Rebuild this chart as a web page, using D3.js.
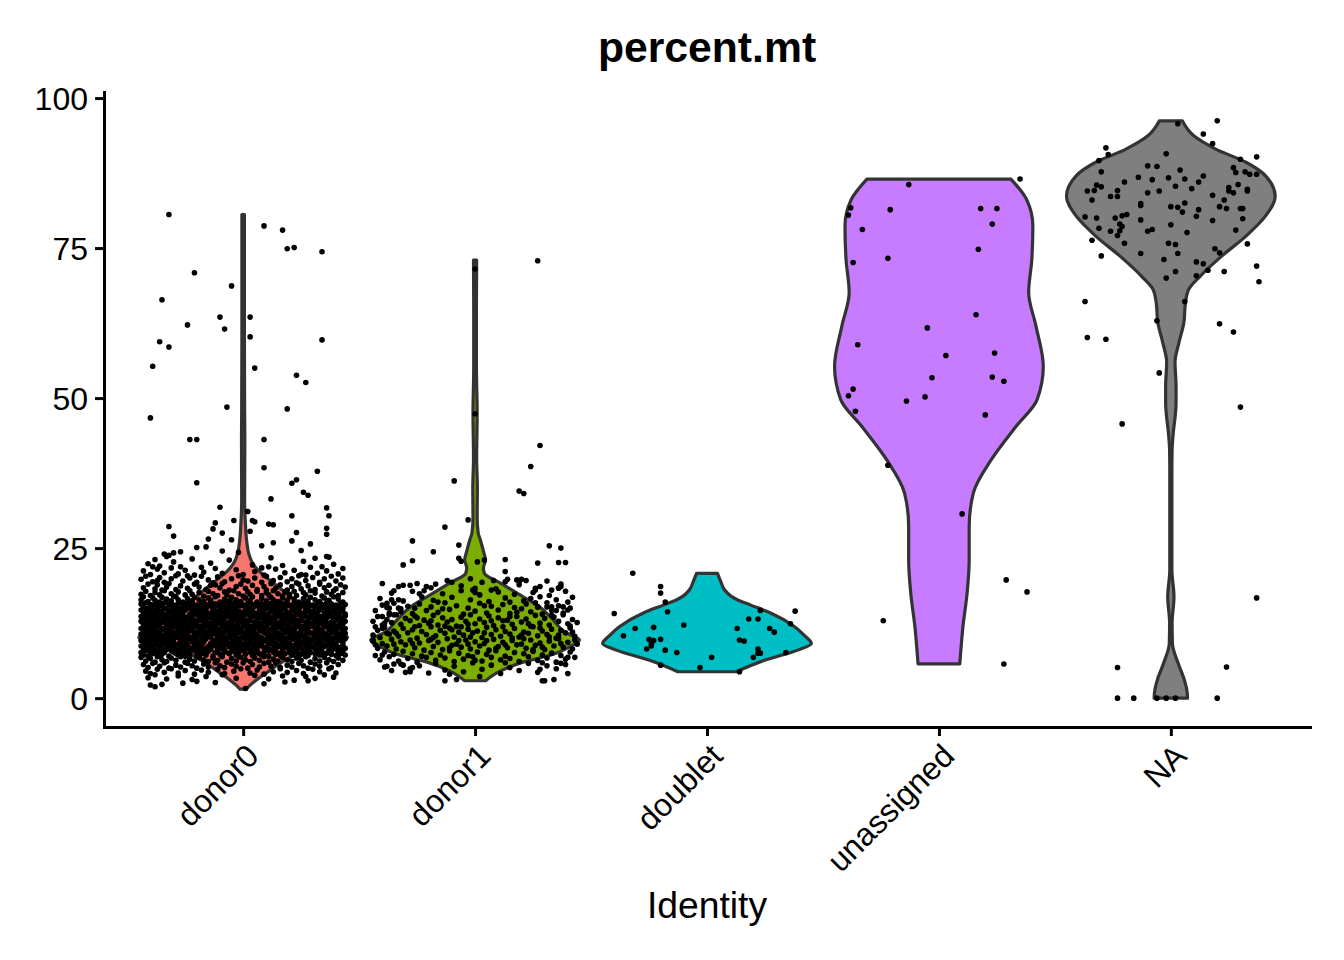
<!doctype html>
<html>
<head>
<meta charset="utf-8">
<script src="https://d3js.org/d3.v7.min.js"></script>
<style>
  body { margin: 0; background: #fff; }
  svg text { font-family: "Liberation Sans", Arial, Helvetica, sans-serif; }
</style>
</head>
<body>
<script>
var categories = ["donor0", "donor1", "doublet", "unassigned", "NA"];
var fillColors = ["#F8766D", "#7CAE00", "#00BFC4", "#C77CFF", "#7F7F7F"];
var yTicks = [0, 25, 50, 75, 100];

// violin outlines: [value, half width relative to the widest violin]
var donor0Shape = [[1.5,0.03],[2.2,0.07],[3.2,0.14],[4.3,0.23],[5.4,0.32],[6.5,0.42],[7.6,0.55],[8.6,0.72],[9.4,0.9],[10.1,1.0],
  [11.0,0.93],[12.0,0.85],[13.2,0.75],[14.5,0.64],[16.0,0.52],[17.5,0.41],[18.8,0.32],[20.0,0.23],[21.2,0.15],[22.5,0.09],
  [24,0.055],[26,0.035],[29,0.022],[33,0.014],[43,0.016],[48,0.014],[60,0.012],[80.6,0.012]];
var donor1Shape = [[2.9,0.1],[4.5,0.24],[6.0,0.46],[7.3,0.75],[8.5,0.9],[9.7,1.0],[11,0.86],[13,0.75],[15.2,0.62],[17,0.45],
  [19.2,0.24],[20.8,0.09],[21.7,0.08],[23,0.1],[24.5,0.08],[26.4,0.05],[27.5,0.03],[30,0.02],[35,0.022],[40,0.015],
  [47.5,0.02],[55,0.013],[65,0.013],[73,0.015]];
var doubletShape = [[4.4,0.28],[6.3,0.55],[8.0,0.87],[9.1,1.0],[10.5,0.93],[11.9,0.84],[14.2,0.61],[15.5,0.42],[16.4,0.29],
  [17.0,0.23],[18.0,0.17],[19.5,0.13],[20.8,0.1]];
var unassignedShape = [[5.7,0.2],[11.9,0.23],[17.5,0.27],[23,0.29],[28.6,0.29],[34.2,0.33],[39.7,0.5],[45.3,0.74],[49.7,0.94],
  [55.3,1.0],[62,0.93],[67.6,0.86],[73.1,0.89],[78.7,0.9],[83.1,0.84],[86.5,0.69]];
var naShape = [[0,0.16],[1.05,0.156],[3.0,0.13],[5.8,0.07],[9.1,0.015],[12.5,0.012],[16.9,0.03],[21.4,0.01],[30,0.01],[38,0.01],
  [41.4,0.012],[43.6,0.02],[49.2,0.05],[52,0.05],[56,0.04],[59.2,0.077],[62.6,0.125],[65.9,0.14],[68.1,0.17],[70.3,0.28],
  [73.7,0.49],[77.0,0.72],[80.4,0.91],[83.6,1.0],[87.0,0.91],[89.3,0.72],[91.5,0.43],[93.7,0.22],[96.2,0.11]];

// jittered cells: [horizontal offset in percent of the category slot, percent.mt]
var donor0Pts = [
[-32,80.6],[9,78.7],[17,78.0],[19,74.9],[22,75.1],[34,74.4],[-21,70.9],[-5,68.7],[-35,66.4],[-10,63.5],[3,63.5],[-24,62.2],[-8,61.5],[3,60.2],[-36,59.4],[-32,58.5],[34,59.7],[-39,55.3],[5,55.0],[23,53.8],[27,52.6],[-7,48.5],[19,48.2],[-40,46.7],[-23,43.1],[-20,43.1],[9,43.1],[9,38.4],[32,37.8],[-20,35.9],[21,35.8],[23,36.4],[26,34.3],[28,33.8],[12,33.2],[-10,31.8],[36,31.7],[37,30.4],[2,31.1],[-32,28.6],[-30,27.0],[21,30.4],[36,28.3],[36,27.3],[-4,29.6],[4,29.6],[5,29.4],[-12,29.2],[-13,28.2],[11,29.0],[13,28.9],[-9,27.5],[3,27.8],[23,27.6],[-15,26.5],[-5,26.4],[8,25.4],[13,25.9],[21,26.2],[25,24.6],[29,25.7],[-20,25.1],[-16,25.2],[-34,24.0],[-32,23.8],[-30,24.2],[-27,24.4],[36,23.6],[37,23.5],[-9,24.5],[-2,24.3],
[-41,22.4],[-38,23.1],[-36,22.0],[-33,23.6],[-30,22.7],[-27,21.9],[-22,23.2],[-14,22.5],[-6,23.0],[4,22.2],[12,23.4],[17,22.1],[26,22.8],[31,23.3],[39,22.3],[-18,21.8],[8,21.7],[34,21.9],
[-43,21.2],[-40,20.6],[-37,21.5],[-34,20.9],[-31,21.7],[-28,20.7],[-25,21.3],[-21,20.5],[-17,21.0],[-12,21.6],[-9,20.8],[-3,21.4],[0,20.6],[5,21.1],[9,20.5],[14,21.5],[18,20.9],[22,21.3],[25,20.6],[29,21.8],[32,20.8],[36,21.2],[41,20.7],[43,21.6],[-24,20.4],[11,21.9],[-39,21.9],[27,20.5],
[-44,19.8],[-42,20.3],[-39,19.4],[-36,20.1],[-34,19.3],[-31,19.9],[-29,20.4],[-26,19.5],[-23,20.0],[-20,19.3],[-18,20.3],[-15,19.7],[-11,20.2],[-8,19.4],[-5,19.9],[-2,20.4],[2,19.5],[5,20.0],[8,19.3],[10,20.3],[13,19.6],[16,20.1],[19,19.4],[21,19.9],[24,20.4],[27,19.6],[30,20.1],[33,19.3],[35,19.9],[38,20.3],[40,19.5],[43,20.0],[-13,19.2],[0,19.7],[23,19.2],[-37,19.6],
[-43,18.4],[-41,19.0],[-38,18.2],[-37,18.9],[-33,18.5],[-32,19.1],[-29,18.1],[-27,18.7],[-24,18.3],[-21,19.0],[-19,18.5],[-16,18.1],[-14,18.8],[-10,18.4],[-9,19.1],[-6,18.0],[-3,18.6],[-1,19.0],[1,18.3],[4,18.8],[6,18.1],[9,18.6],[12,19.1],[14,18.3],[16,18.9],[19,18.0],[21,18.6],[24,19.0],[25,18.2],[28,18.7],[31,18.1],[33,19.0],[35,18.4],[37,18.8],[40,18.2],[42,18.9],[44,18.5],[-35,18.0],[-12,18.9],[10,18.0],
[-44,17.3],[-42,17.8],[-40,17.1],[-38,17.6],[-36,17.2],[-34,17.9],[-31,17.4],[-30,17.0],[-28,17.7],[-25,17.2],[-23,17.9],[-22,17.3],[-19,17.6],[-17,17.0],[-15,17.8],[-13,17.4],[-11,17.1],[-8,17.7],[-7,17.2],[-4,17.9],[-2,17.4],[0,17.0],[2,17.7],[3,17.3],[6,17.8],[8,17.1],[10,17.6],[11,17.2],[13,17.9],[15,17.4],[17,17.0],[18,17.7],[20,17.3],[22,17.8],[23,17.1],[26,17.6],[27,17.2],[29,17.9],[31,17.5],[34,17.0],[36,17.7],[38,17.3],[39,17.9],[41,17.1],[43,17.6],
[-44,16.4],[-43,16.9],[-41,16.1],[-39,16.7],[-38,16.3],[-36,16.0],[-35,16.8],[-33,16.5],[-31,16.2],[-29,16.9],[-28,16.4],[-26,16.0],[-24,16.6],[-22,16.2],[-21,16.8],[-19,16.4],[-17,16.1],[-15,16.7],[-14,16.3],[-12,16.9],[-10,16.0],[-8,16.5],[-6,16.2],[-5,16.8],[-3,16.4],[-1,16.1],[1,16.7],[3,16.3],[4,16.9],[6,16.0],[8,16.6],[10,16.2],[12,16.8],[13,16.4],[15,16.1],[17,16.7],[19,16.3],[20,16.9],[22,16.5],[24,16.0],[26,16.6],[28,16.2],[29,16.8],[31,16.4],[33,16.1],[35,16.7],[37,16.3],[39,16.9],[41,16.5],[43,16.0],
[-44,15.7],[-42,15.9],[-40,15.6],[-38,15.8],[-36,15.5],[-34,15.9],[-32,15.7],[-30,15.5],[-28,15.8],[-26,15.6],[-24,15.9],[-22,15.7],[-20,15.5],[-18,15.8],[-16,15.6],[-14,15.9],[-12,15.7],[-10,15.5],[-8,15.8],[-6,15.6],[-4,15.9],[-2,15.7],[0,15.5],[2,15.8],[4,15.6],[6,15.9],[8,15.7],[10,15.5],[12,15.8],[14,15.6],[16,15.9],[18,15.7],[20,15.5],[22,15.8],[24,15.6],[26,15.9],[28,15.7],[30,15.5],[32,15.8],[34,15.6],[36,15.9],[38,15.7],[40,15.5],[42,15.8],[44,15.6],
[-43,15.2],[-41,15.0],[-39,15.4],[-37,15.1],[-35,15.3],[-33,15.0],[-31,15.4],[-29,15.2],[-27,15.0],[-25,15.3],[-23,15.1],[-21,15.4],[-19,15.2],[-17,15.0],[-15,15.3],[-13,15.1],[-11,15.4],[-9,15.2],[-7,15.0],[-5,15.3],[-3,15.1],[-1,15.4],[1,15.2],[3,15.0],[5,15.3],[7,15.1],[9,15.4],[11,15.2],[13,15.0],[15,15.3],[17,15.1],[19,15.4],[21,15.2],[23,15.0],[25,15.3],[27,15.1],[29,15.4],[31,15.2],[33,15.0],[35,15.3],[37,15.1],[39,15.4],[41,15.2],[43,15.0],
[-44,14.7],[-42,14.5],[-41,14.9],[-39,14.6],[-37,14.8],[-35,14.5],[-34,14.9],[-31,14.6],[-30,14.8],[-28,14.5],[-25,14.7],[-24,15.0],[-22,14.6],[-20,14.8],[-18,14.5],[-16,14.9],[-13,14.7],[-12,14.5],[-10,14.8],[-7,14.6],[-6,15.0],[-4,14.7],[-2,14.5],[1,14.8],[2,14.6],[4,14.9],[7,14.5],[9,14.7],[10,15.0],[12,14.6],[15,14.8],[16,14.5],[18,14.9],[21,14.7],[22,14.5],[24,14.8],[27,14.6],[28,14.9],[30,14.5],[33,14.7],[34,15.0],[36,14.6],[39,14.8],[40,14.5],[42,14.9],
[-43,14.2],[-41,14.0],[-40,14.4],[-38,14.1],[-36,14.3],[-33,14.0],[-32,14.4],[-30,14.2],[-27,14.1],[-26,14.4],[-23,14.0],[-21,14.3],[-19,14.1],[-17,14.4],[-15,14.2],[-14,14.0],[-11,14.3],[-9,14.1],[-8,14.4],[-5,14.2],[-3,14.0],[-1,14.3],[0,14.1],[3,14.4],[5,14.2],[6,14.0],[8,14.3],[11,14.1],[13,14.4],[14,14.2],[17,14.0],[19,14.3],[20,14.1],[23,14.4],[25,14.2],[26,14.0],[29,14.3],[31,14.1],[32,14.4],[35,14.2],[37,14.0],[38,14.3],[41,14.1],[43,14.4],[44,14.0],
[-44,13.6],[-42,13.9],[-40,13.5],[-39,13.8],[-37,13.6],[-35,13.9],[-33,13.7],[-31,13.5],[-29,13.8],[-28,13.6],[-26,13.9],[-24,13.5],[-22,13.7],[-20,14.0],[-19,13.6],[-17,13.8],[-15,13.5],[-13,13.9],[-11,13.7],[-9,13.5],[-7,13.8],[-6,13.6],[-4,13.9],[-2,13.5],[0,13.7],[2,14.0],[4,13.6],[5,13.8],[7,13.5],[9,13.9],[11,13.7],[13,13.5],[15,13.8],[16,13.6],[18,13.9],[20,13.5],[22,13.7],[24,14.0],[26,13.6],[27,13.8],[29,13.5],[31,13.9],[33,13.7],[35,13.5],[37,13.8],[38,13.6],[40,13.9],[42,13.5],[44,13.7],
[-43,13.1],[-41,13.4],[-39,13.0],[-38,13.3],[-36,13.1],[-34,13.4],[-32,13.2],[-30,13.0],[-29,13.3],[-27,13.1],[-25,13.4],[-23,13.2],[-21,13.0],[-18,13.3],[-16,13.1],[-14,13.4],[-12,13.2],[-10,13.0],[-8,13.3],[-5,13.1],[-3,13.4],[-1,13.2],[1,13.0],[3,13.3],[6,13.1],[8,13.4],[10,13.2],[12,13.0],[14,13.3],[17,13.1],[19,13.4],[21,13.2],[23,13.0],[25,13.3],[28,13.1],[30,13.4],[32,13.2],[34,13.0],[36,13.3],[39,13.1],[41,13.4],[43,13.2],
[-44,12.8],[-42,12.6],[-41,12.9],[-39,12.5],[-37,12.7],[-35,12.9],[-34,12.6],[-32,12.8],[-30,12.5],[-28,12.7],[-26,13.0],[-25,12.6],[-23,12.8],[-21,12.5],[-19,12.9],[-17,12.7],[-15,12.5],[-13,12.8],[-12,12.6],[-10,12.9],[-8,12.5],[-6,12.7],[-4,13.0],[-2,12.6],[-1,12.8],[1,12.5],[3,12.9],[5,12.7],[7,12.5],[9,12.8],[10,12.6],[12,12.9],[14,12.5],[16,12.7],[18,13.0],[20,12.6],[21,12.8],[23,12.5],[25,12.9],[27,12.7],[29,12.5],[31,12.8],[32,12.6],[34,12.9],[36,12.5],[38,12.7],[40,13.0],[42,12.6],[44,12.8],
[-43,12.3],[-41,12.0],[-40,12.4],[-38,12.1],[-36,12.3],[-33,12.0],[-31,12.2],[-29,12.4],[-27,12.1],[-26,12.3],[-24,12.0],[-22,12.4],[-20,12.2],[-18,12.0],[-16,12.3],[-14,12.1],[-11,12.4],[-9,12.2],[-7,12.0],[-5,12.3],[-3,12.1],[0,12.4],[2,12.2],[4,12.0],[6,12.3],[8,12.1],[11,12.4],[13,12.2],[15,12.0],[17,12.3],[19,12.1],[22,12.4],[24,12.2],[26,12.0],[28,12.3],[30,12.1],[33,12.4],[35,12.2],[37,12.0],[39,12.3],[41,12.1],[43,12.4],
[-44,11.6],[-42,11.9],[-40,11.5],[-39,11.7],[-37,12.0],[-35,11.6],[-33,11.8],[-32,11.5],[-30,11.9],[-28,11.7],[-26,11.5],[-24,11.8],[-23,11.6],[-21,11.9],[-19,11.5],[-17,11.7],[-15,12.0],[-13,11.6],[-12,11.8],[-10,11.5],[-8,11.9],[-6,11.7],[-4,11.5],[-2,11.8],[-1,11.6],[1,11.9],[3,11.5],[5,11.7],[7,12.0],[9,11.6],[10,11.8],[12,11.5],[14,11.9],[16,11.7],[18,11.5],[20,11.8],[21,11.6],[23,11.9],[25,11.5],[27,11.7],[29,12.0],[31,11.6],[32,11.8],[34,11.5],[36,11.9],[38,11.7],[40,11.5],[42,11.8],[44,11.6],
[-43,11.2],[-41,11.4],[-39,11.0],[-38,11.3],[-36,11.1],[-34,11.4],[-31,11.2],[-29,11.0],[-28,11.3],[-25,11.1],[-23,11.4],[-22,11.2],[-20,11.0],[-17,11.3],[-15,11.1],[-14,11.4],[-11,11.2],[-9,11.0],[-7,11.3],[-6,11.1],[-3,11.4],[-1,11.2],[0,11.0],[2,11.3],[4,11.1],[7,11.4],[8,11.2],[11,11.0],[13,11.3],[14,11.1],[17,11.4],[19,11.2],[20,11.0],[22,11.3],[25,11.1],[26,11.4],[28,11.2],[31,11.0],[33,11.3],[34,11.1],[37,11.4],[39,11.2],[40,11.0],[43,11.3],
[-44,10.7],[-42,10.5],[-40,10.9],[-39,10.6],[-37,10.8],[-35,10.5],[-33,10.9],[-32,10.7],[-30,10.5],[-27,10.8],[-26,10.6],[-24,10.9],[-21,10.7],[-19,10.5],[-18,10.8],[-16,10.6],[-13,10.9],[-12,10.7],[-10,10.5],[-8,11.0],[-5,10.8],[-4,10.6],[-2,10.9],[1,10.7],[3,10.5],[5,10.8],[6,10.6],[9,10.9],[10,10.7],[12,10.5],[15,10.8],[16,10.6],[18,10.9],[21,10.7],[23,10.5],[24,10.8],[27,10.6],[29,10.9],[30,10.7],[32,10.5],[35,10.8],[36,10.6],[38,10.9],[41,10.7],[42,10.5],[44,10.8],
[-43,10.1],[-41,10.4],[-40,10.0],[-38,10.3],[-36,10.1],[-34,10.4],[-33,10.2],[-31,10.0],[-29,10.3],[-28,10.1],[-25,10.4],[-23,10.2],[-22,10.0],[-20,10.3],[-17,10.1],[-15,10.4],[-14,10.2],[-11,10.0],[-9,10.3],[-7,10.1],[-6,10.4],[-3,10.2],[-1,10.0],[0,10.3],[2,10.1],[4,10.4],[7,10.2],[8,10.0],[11,10.3],[13,10.1],[14,10.4],[17,10.2],[19,10.0],[20,10.3],[22,10.1],[25,10.4],[26,10.2],[28,10.0],[31,10.3],[33,10.1],[34,10.4],[37,10.2],[39,10.0],[40,10.3],[43,10.1],
[-44,9.6],[-42,9.9],[-41,9.5],[-39,9.8],[-37,9.6],[-35,9.9],[-34,9.7],[-32,9.5],[-30,9.8],[-27,9.6],[-26,9.9],[-24,9.7],[-21,9.5],[-20,9.8],[-18,9.6],[-16,9.9],[-13,9.7],[-12,9.5],[-10,9.8],[-8,9.6],[-5,9.9],[-4,9.7],[-2,9.5],[1,9.8],[3,9.6],[5,9.9],[6,9.7],[9,9.5],[10,9.8],[12,9.6],[15,9.9],[16,9.7],[18,9.5],[21,9.8],[23,9.6],[24,9.9],[27,9.7],[29,9.5],[30,9.8],[32,9.6],[35,9.9],[36,9.7],[38,9.5],[41,9.8],[42,9.6],[44,9.9],
[-43,9.2],[-41,9.0],[-40,9.4],[-38,9.1],[-35,9.3],[-34,9.0],[-32,9.4],[-30,9.2],[-28,9.0],[-26,9.3],[-25,9.1],[-22,9.4],[-20,9.2],[-19,9.0],[-17,9.3],[-14,9.1],[-13,9.4],[-11,9.2],[-9,9.0],[-7,9.3],[-5,9.1],[-3,9.4],[-1,9.2],[1,9.0],[3,9.3],[4,9.1],[6,9.4],[8,9.2],[11,9.0],[13,9.3],[14,9.1],[17,9.4],[19,9.2],[20,9.0],[23,9.3],[25,9.1],[26,9.4],[28,9.2],[31,9.0],[33,9.3],[34,9.1],[37,9.4],[39,9.2],[40,9.0],[43,9.3],
[-44,8.7],[-42,8.5],[-40,8.9],[-39,8.6],[-37,8.8],[-36,8.5],[-33,8.9],[-31,8.7],[-30,8.5],[-27,8.8],[-25,8.6],[-24,8.9],[-21,8.7],[-19,8.5],[-18,8.8],[-15,8.6],[-13,8.9],[-12,8.7],[-10,8.5],[-8,8.8],[-6,8.6],[-4,8.9],[-2,8.7],[0,8.5],[2,8.8],[5,8.6],[7,8.9],[8,8.7],[10,8.5],[13,8.8],[15,8.6],[16,8.9],[18,8.7],[21,8.5],[22,8.8],[24,8.6],[27,8.9],[29,8.7],[30,8.5],[33,8.8],[35,8.6],[36,8.9],[38,8.7],[41,8.5],[43,8.8],
[-43,8.1],[-41,8.4],[-39,8.2],[-38,8.0],[-35,8.3],[-33,8.1],[-32,8.4],[-29,8.2],[-28,8.0],[-26,8.3],[-23,8.1],[-22,8.4],[-20,8.2],[-17,8.0],[-16,8.3],[-14,8.1],[-11,8.4],[-9,8.2],[-8,8.0],[-5,8.3],[-3,8.1],[-1,8.4],[1,8.2],[3,8.0],[4,8.3],[6,8.1],[9,8.4],[11,8.2],[12,8.0],[14,8.3],[17,8.1],[19,8.4],[20,8.2],[23,8.0],[25,8.3],[26,8.1],[28,8.4],[31,8.2],[32,8.0],[34,8.3],[37,8.1],[39,8.4],[40,8.2],[42,8.0],[44,8.3],
[-44,7.6],[-42,7.9],[-40,7.7],[-37,7.5],[-36,7.8],[-34,7.6],[-31,7.9],[-30,7.7],[-27,7.5],[-25,7.8],[-24,7.6],[-21,7.9],[-19,7.7],[-17,7.5],[-15,7.8],[-12,7.6],[-11,7.9],[-8,7.7],[-6,7.5],[-4,7.8],[-2,7.6],[0,7.9],[3,7.7],[5,7.5],[6,7.8],[9,7.6],[11,7.9],[13,7.7],[15,7.5],[17,7.8],[20,7.6],[21,7.9],[23,7.7],[26,7.5],[28,7.8],[29,7.6],[32,7.9],[34,7.7],[36,7.5],[38,7.8],[41,7.6],[43,7.9],
[-43,7.2],[-41,7.0],[-39,7.4],[-36,7.1],[-35,7.3],[-32,7.0],[-29,7.4],[-28,7.2],[-25,7.0],[-23,7.3],[-20,7.1],[-18,7.4],[-16,7.2],[-13,7.0],[-10,7.3],[-9,7.1],[-6,7.4],[-3,7.2],[-2,7.0],[1,7.3],[4,7.1],[7,7.4],[8,7.2],[11,7.0],[14,7.3],[16,7.1],[18,7.4],[21,7.2],[24,7.0],[25,7.3],[28,7.1],[31,7.4],[33,7.2],[35,7.0],[38,7.3],[40,7.1],[42,7.4],[44,7.2],
[-44,6.8],[-42,6.2],[-40,6.6],[-38,6.0],[-37,6.9],[-35,6.4],[-33,6.1],[-31,6.7],[-29,6.3],[-27,6.9],[-25,6.0],[-23,6.5],[-21,6.2],[-19,6.8],[-17,6.4],[-15,6.1],[-13,6.7],[-11,6.3],[-9,6.9],[-7,6.0],[-5,6.6],[-3,6.2],[-1,6.8],[1,6.4],[3,6.1],[5,6.7],[7,6.3],[9,6.9],[11,6.0],[13,6.5],[15,6.2],[17,6.8],[19,6.4],[21,6.1],[23,6.7],[25,6.3],[27,6.9],[29,6.0],[31,6.6],[33,6.2],[35,6.8],[37,6.4],[39,6.1],[41,6.7],[43,6.3],
[-43,5.6],[-41,5.1],[-39,5.8],[-36,5.3],[-34,5.9],[-32,5.0],[-29,5.5],[-27,5.2],[-24,5.8],[-22,5.4],[-20,5.0],[-17,5.7],[-15,5.2],[-12,5.9],[-10,5.4],[-8,5.1],[-5,5.7],[-3,5.3],[0,5.9],[2,5.0],[4,5.6],[7,5.2],[9,5.8],[12,5.3],[14,5.9],[16,5.1],[19,5.5],[21,5.2],[24,5.8],[26,5.4],[28,5.0],[31,5.7],[33,5.3],[36,5.9],[38,5.1],[41,5.6],
[-42,4.5],[-40,4.1],[-37,4.8],[-34,4.3],[-31,4.9],[-28,4.2],[-25,4.6],[-21,4.0],[-18,4.7],[-15,4.3],[-11,4.8],[-8,4.1],[-4,4.5],[-1,4.9],[3,4.2],[6,4.7],[9,4.0],[13,4.4],[16,4.9],[19,4.3],[23,4.6],[26,4.1],[30,4.8],[33,4.4],[37,4.9],[40,4.2],
[-41,3.4],[-38,3.9],[-33,3.2],[-28,3.7],[-22,3.1],[-16,3.6],[-9,3.9],[-3,3.3],[5,3.8],[11,3.2],[17,3.7],[22,3.0],[27,3.6],[31,3.3],[35,3.9],[39,3.5],
[-40,2.2],[-38,1.9],[-35,2.3],[-26,2.5],[-20,2.8],[-12,2.6],[1,1.6],[9,2.4],[18,2.7],[28,2.9]
];

var donor1Pts = [
[27,72.9],[0,71.5],[0,47.4],[28,42.1],[24,38.6],[-9,36.2],[19,34.5],[21,34.1],[-3,29.7],[-13,28.5],[-27,26.2],[-7,25.5],[32,25.4],[37,25.0],[-18,24.4],[-27,22.9],[-31,22.2],[-7,23.3],[-6,22.8],[1,22.7],[4,23.0],[13,23.1],[27,22.5],[36,22.6],[39,22.6],[13,21.1],[-40,19.1],[-31,18.8],[-28,18.8],[-35,17.9],[-17,19.0],[-10,19.3],[-21,18.6],[-22,17.9],[-24,17.4],[-36,16.4],[-38,15.8],[-37,15.0],[-33,16.4],[0,18.3],[-1,18.0],[8,19.6],[13,19.4],[18,19.7],[19,19.4],[20,19.8],[26,18.0],[28,18.6],[33,18.0],[37,19.0],[36,18.3],[37,18.6],[24,16.6],[27,15.2],[31,15.2],[33,15.2],[35,14.6],[38,15.2],[40,16.0],[40,14.7],[-33,15.0],[-32,14.4],[-35,13.9],[-40,13.6],[-39,12.5],[-40,11.6],[-38,10.8],[-44,9.7],[-40,7.2],[-38,5.3],[-35,5.7],[-31,5.5],[-28,4.4],[-27,5.1],[-13,2.9],[-8,3.1],[2,3.6],[28,4.8],[30,2.9],[29,2.9],[34,3.1],[40,4.1],[40,6.8],[37,5.8],
[-25,19.1],[-19,18.4],[-12,19.6],[-6,18.7],[3,19.3],[9,18.2],[14,19.8],[19,18.9],[26,18.3],[31,19.5],[-33,18.6],[-2,19.9],[7,18.0],[22,19.6],[36,18.4],
[-41,16.6],[-36,17.5],[-31,16.2],[-27,17.8],[-23,16.9],[-18,16.3],[-14,17.4],[-10,16.8],[-6,17.9],[-2,16.4],[2,17.2],[6,16.1],[10,17.7],[13,16.7],[17,17.3],[21,16.2],[25,17.6],[28,16.9],[32,17.1],[35,16.4],[39,17.8],[42,16.8],[-16,16.0],[0,17.6],[15,16.0],
[-43,14.6],[-40,15.5],[-37,14.2],[-35,15.8],[-32,14.9],[-29,15.3],[-27,14.1],[-24,15.7],[-21,14.6],[-19,15.2],[-16,14.3],[-13,15.9],[-11,14.8],[-8,15.4],[-5,14.0],[-3,15.0],[0,14.5],[2,15.8],[5,14.2],[7,15.3],[10,14.7],[12,15.6],[15,14.1],[17,15.1],[20,14.9],[22,15.7],[24,14.4],[27,15.2],[29,14.0],[31,15.9],[33,14.6],[36,15.4],[38,14.2],[41,15.0],[-38,15.1],[-14,14.9],[4,15.4],[18,14.3],[26,15.9],[-26,15.0],
[-44,12.8],[-42,13.6],[-40,12.2],[-38,13.1],[-36,12.6],[-34,13.9],[-32,12.3],[-30,13.3],[-28,12.9],[-26,13.7],[-24,12.1],[-22,13.0],[-20,12.5],[-18,13.8],[-16,12.2],[-14,13.4],[-12,12.7],[-10,13.1],[-8,12.0],[-6,13.5],[-4,12.8],[-2,13.9],[0,12.4],[2,13.2],[4,12.6],[6,13.7],[8,12.1],[10,13.4],[12,12.9],[14,13.0],[16,12.3],[18,13.6],[20,12.7],[22,13.2],[24,12.0],[26,13.8],[28,12.5],[30,13.3],[32,12.2],[34,13.5],[36,12.8],[38,13.9],[40,12.4],[42,13.1],[44,12.6],[-37,13.9],[-25,13.4],[-13,12.0],[-3,12.3],[7,12.9],[15,13.6],[23,12.4],[33,13.8],[41,12.0],[-19,12.9],
[-44,10.5],[-42,11.3],[-41,10.1],[-39,11.8],[-37,10.7],[-35,11.2],[-33,10.3],[-31,11.6],[-29,10.9],[-27,11.4],[-25,10.0],[-23,11.1],[-21,10.6],[-19,11.9],[-17,10.4],[-15,11.3],[-13,10.8],[-11,11.7],[-9,10.2],[-7,11.0],[-5,10.5],[-3,11.5],[-1,10.9],[1,11.2],[3,10.1],[5,11.8],[7,10.6],[9,11.4],[11,10.3],[13,11.1],[15,10.7],[17,11.6],[19,10.2],[21,11.0],[23,10.8],[25,11.9],[27,10.4],[29,11.2],[31,10.6],[33,11.5],[35,10.0],[37,11.3],[39,10.9],[41,11.7],[43,10.3],[-43,11.9],[-34,10.8],[-26,11.9],[-18,10.1],[-10,11.4],[-2,10.2],[4,10.9],[12,11.9],[20,10.5],[28,11.7],[36,10.5],[42,11.0],[-6,11.9],[16,10.0],[32,10.2],
[-44,9.5],[-42,8.3],[-40,9.1],[-38,8.7],[-36,9.8],[-34,8.2],[-32,9.4],[-30,8.9],[-28,9.7],[-26,8.4],[-24,9.2],[-22,8.0],[-20,9.6],[-18,8.6],[-16,9.3],[-14,8.1],[-12,9.9],[-10,8.8],[-8,9.0],[-6,8.5],[-4,9.7],[-2,8.2],[0,9.4],[2,8.7],[4,9.1],[6,8.0],[8,9.8],[10,8.6],[12,9.3],[14,8.4],[16,9.6],[18,8.9],[20,9.0],[22,8.3],[24,9.7],[26,8.8],[28,9.2],[30,8.1],[32,9.5],[34,8.7],[36,9.9],[38,8.5],[40,9.3],[42,8.2],[44,9.0],[-43,8.9],[-35,9.0],[-27,9.1],[-19,9.8],[-11,8.4],[-3,9.0],[5,9.6],[13,8.9],[21,9.9],[29,8.5],[37,9.1],[43,9.7],[-7,9.6],[9,8.3],[25,8.1],
[-43,7.1],[-41,6.4],[-39,7.7],[-37,6.9],[-35,7.3],[-33,6.2],[-31,7.8],[-29,6.6],[-27,7.4],[-25,6.0],[-23,7.0],[-21,6.8],[-19,7.6],[-17,6.3],[-15,7.2],[-13,6.7],[-11,7.9],[-9,6.1],[-7,7.5],[-5,6.5],[-3,7.1],[-1,6.9],[1,7.7],[3,6.2],[5,7.3],[7,6.8],[9,7.9],[11,6.4],[13,7.0],[15,6.6],[17,7.6],[19,6.1],[21,7.4],[23,6.9],[25,7.8],[27,6.3],[29,7.2],[31,6.7],[33,7.5],[35,6.0],[37,7.1],[39,6.5],[41,7.7],[43,6.8],[0,6.3],
[-39,5.2],[-36,4.6],[-32,5.7],[-28,4.9],[-24,5.4],[-20,4.2],[-17,5.8],[-13,4.7],[-9,5.3],[-5,4.4],[-1,5.9],[3,4.8],[7,5.5],[11,4.1],[15,5.1],[19,4.6],[23,5.8],[27,4.3],[31,5.4],[35,4.9],[39,5.6],[-11,4.0],[13,5.9],[-30,4.3],[29,5.9]
];

var doubletPts = [
[-32,20.8],[-20,18.6],[-20,17.5],[-18,16.0],[-40,14.1],[-17,14.4],[38,14.5],[23,14.6],[18,13.2],[22,13.2],[36,12.4],[-10,12.2],[-31,11.6],[-23,11.8],[13,11.6],[27,11.6],[29,11.0],[-36,10.4],[-25,9.8],[-23,9.6],[-20,9.8],[14,9.7],[16,9.5],[-24,9.0],[-24,8.7],[-26,8.2],[-18,8.0],[-13,7.6],[22,8.2],[23,7.5],[22,7.5],[34,7.6],[20,6.8],[2,6.8],[-20,5.5],[-3,5.1],[14,4.4]
];

var unassignedPts = [
[-13,85.6],[35,86.5],[-38,81.7],[-39,80.5],[-21,81.4],[18,81.6],[25,81.6],[23,79.0],[-33,78.1],[17,74.8],[-37,72.6],[-22,73.3],[16,63.9],[-5,61.7],[-35,58.9],[3,57.1],[24,57.5],[-3,53.4],[23,53.5],[28,52.8],[-37,51.5],[-39,50.4],[-14,49.5],[-6,50.2],[-36,47.8],[20,47.2],[-22,38.8],[10,30.7],[29,19.7],[38,17.7],[-24,12.9],[28,5.7]
];

var naPts = [
[3,95.7],[20,96.2],[14,94.0],[18,92.4],[-28,91.7],[-27,90.6],[-31,89.6],[-2,90.7],[37,90.2],[30,89.8],[-10,88.7],[-6,88.6],[4,88.0],[-30,87.7],[27,88.4],[28,87.6],[32,87.7],[34,87.3],[37,87.3],[14,87.0],[6,86.5],[-1,86.7],[-8,86.4],[-14,86.8],[-20,86.0],[12,86.0],[-32,85.5],[-30,85.2],[-36,84.5],[-33,84.6],[-23,84.6],[-5,84.5],[2,85.3],[9,84.9],[-10,84.2],[25,85.1],[25,84.5],[27,84.2],[29,85.6],[33,84.8],[33,84.5],[-34,83.0],[-26,83.6],[-23,83.6],[18,83.8],[23,83.0],[-13,82.4],[-13,82.1],[0,81.9],[3,81.8],[6,82.5],[5,81.0],[12,81.4],[21,81.9],[24,81.6],[30,81.6],[31,81.6],[-37,80.2],[-32,80.0],[-24,80.0],[-21,80.4],[-19,80.6],[-22,79.0],[-21,78.6],[-22,77.9],[-23,77.1],[-13,79.7],[11,80.3],[18,79.6],[31,79.9],[-31,78.3],[-26,77.8],[-10,77.8],[-8,78.1],[0,78.9],[7,77.6],[28,78.0],[-34,76.3],[-20,75.8],[-1,75.8],[2,75.6],[33,75.7],[19,74.9],[21,74.2],[-30,73.7],[-13,74.1],[3,74.1],[11,72.7],[14,72.4],[16,71.3],[37,72.0],[-3,73.1],[2,71.1],[11,70.4],[23,71.1],[-2,70.0],[38,69.4],[-37,66.1],[6,66.1],[-6,62.9],[21,62.4],[27,61.0],[-36,60.1],[-28,59.8],[-5,54.2],[30,48.5],[-21,45.7],[37,16.7],[-23,5.1],[24,5.2],[-23,0],[-16,0],[-6,0],[-2,0],[2,0],[20,0]
];

var shapes = [donor0Shape, donor1Shape, doubletShape, unassignedShape, naShape];
var points = [donor0Pts, donor1Pts, doubletPts, unassignedPts, naPts];

var width = 1344, height = 960;
var panel = {left: 104, right: 1310, top: 92, bottom: 727};

var svg = d3.select("body").append("svg")
    .attr("width", width)
    .attr("height", height);

var x = d3.scalePoint()
    .domain(categories)
    .range([panel.left, panel.right])
    .padding(0.6);

var allValues = [];
points.forEach(function (p) { p.forEach(function (d) { allValues.push(d[1]); }); });
shapes.forEach(function (s) { s.forEach(function (d) { allValues.push(d[0]); }); });
var ext = d3.extent(allValues);
var pad = (ext[1] - ext[0]) * 0.05; // ggplot's default expansion

var y = d3.scaleLinear()
    .domain([ext[0] - pad, ext[1] + pad])
    .range([panel.bottom, panel.top]);

var halfWidth = x.step() * 0.45;
var jitter = d3.scaleLinear().domain([-50, 50]).range([-x.step() / 2, x.step() / 2]);

// violins
categories.forEach(function (cat, i) {
    var cx = x(cat);
    var area = d3.area()
        .curve(d3.curveMonotoneY)
        .y(function (d) { return y(d[0]); })
        .x0(function (d) { return cx - halfWidth * d[1]; })
        .x1(function (d) { return cx + halfWidth * d[1]; });
    svg.append("path")
        .datum(shapes[i])
        .attr("d", area)
        .attr("fill", fillColors[i])
        .attr("stroke", "#333333")
        .attr("stroke-width", 3.2)
        .attr("stroke-linejoin", "round");
});

// jittered points on top
categories.forEach(function (cat, i) {
    svg.append("g")
        .selectAll("circle")
        .data(points[i])
        .enter()
        .append("circle")
        .attr("cx", function (d) { return x(cat) + jitter(d[0]); })
        .attr("cy", function (d) { return y(d[1]); })
        .attr("r", 2.8)
        .attr("fill", "#000");
});

// axes
var yAxis = svg.append("g")
    .attr("transform", "translate(" + panel.left + ",0)")
    .call(d3.axisLeft(y).tickValues(yTicks).tickSize(9).tickSizeOuter(0).tickPadding(7));

var xAxis = svg.append("g")
    .attr("transform", "translate(0," + panel.bottom + ")")
    .call(d3.axisBottom(x).tickSize(9).tickSizeOuter(0));

[yAxis, xAxis].forEach(function (g) {
    g.attr("font-family", null).attr("font-size", null);
    g.selectAll("path, line").attr("stroke", "#000").attr("stroke-width", 3);
    g.select(".domain").attr("stroke-linecap", "square");
    g.selectAll("text").attr("fill", "#000").style("font-size", "32px");
});

yAxis.selectAll("text").attr("dy", "0.36em");

xAxis.selectAll(".tick text")
    .attr("y", 0)
    .attr("dy", 0)
    .attr("text-anchor", "end")
    .attr("transform", "translate(17,31) rotate(-45)");

// titles
svg.append("text")
    .attr("x", (panel.left + panel.right) / 2)
    .attr("y", 62)
    .attr("text-anchor", "middle")
    .style("font-size", "42.7px")
    .style("font-weight", "bold")
    .text("percent.mt");

svg.append("text")
    .attr("x", (panel.left + panel.right) / 2)
    .attr("y", 918)
    .attr("text-anchor", "middle")
    .style("font-size", "37.3px")
    .text("Identity");
</script>
</body>
</html>
